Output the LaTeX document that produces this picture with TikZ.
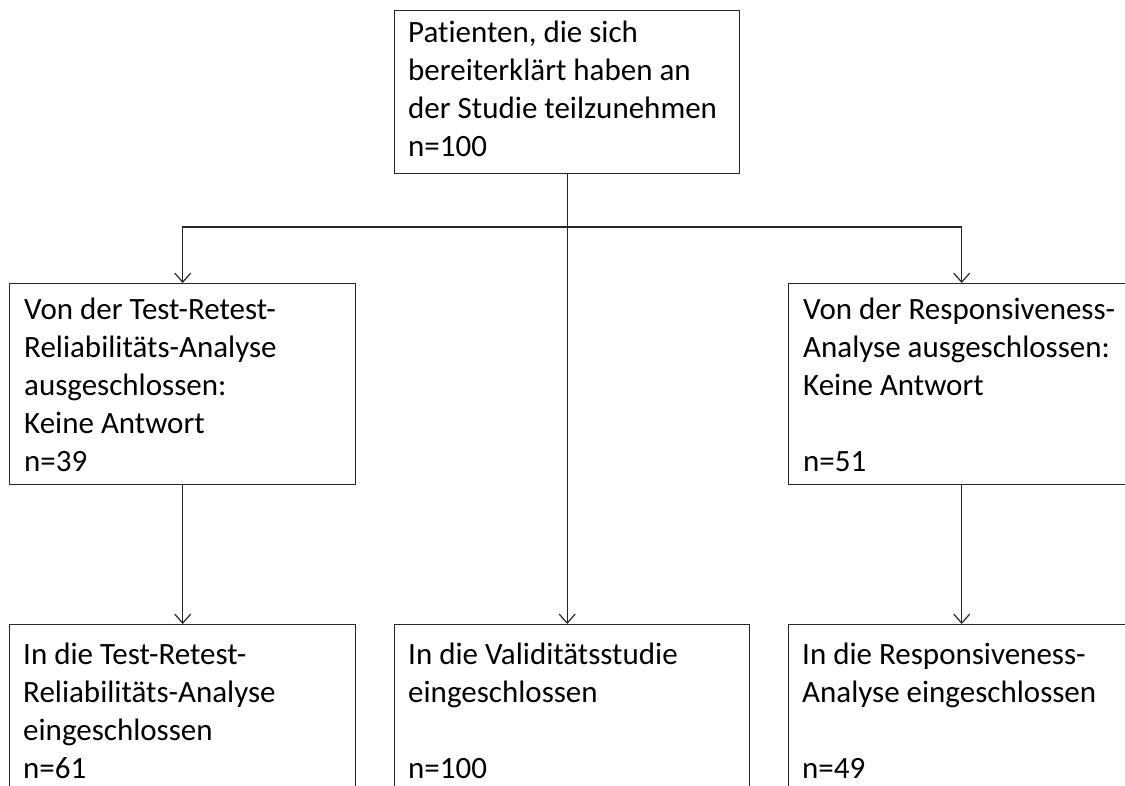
\documentclass[tikz,border=0pt]{standalone}
\usepackage{fontspec}
\setmainfont[Ligatures=NoCommon]{Carlito}
\usetikzlibrary{arrows.meta}

\tikzset{
	kasten/.style={draw=black!85, line width=1.4pt, minimum width=346pt, inner sep=0pt, anchor=north west},
	txt/.style={anchor=north west, inner sep=0pt, align=left, font=\fontsize{31}{38}\selectfont},
	pfeil/.style={draw=black!85, line width=1.2pt, -{Straight Barb[length=9pt,width=16pt]}},
}

\begin{document}
\begin{tikzpicture}[x=1pt,y=-1pt]
		\useasboundingbox (0,0) rectangle (1125,785);
		\clip (0,0) rectangle (1125,785);

		%Oben
		\node[kasten, minimum width=345pt, minimum height=163pt] (start) at (394,10) {};
		\node[txt] (tstart) at ([shift={(14,11)}]start.north west) {Patienten, die sich\\bereiterklärt haben an\\der Studie teilzunehmen\\n=100};

		%Ausgeschlossen
		\node[kasten, minimum height=201pt] (ausL) at (9,283) {};
		\node[txt] (tausL) at ([shift={(15,15)}]ausL.north west) {Von der Test-Retest-\\Reliabilitäts-Analyse\\ausgeschlossen:\\Keine Antwort\\n=39};
		\node[kasten, minimum height=201pt] (ausR) at (788,283) {};
		\node[txt] (tausR) at ([shift={(15,15)}]ausR.north west) {Von der Responsiveness-\\Analyse ausgeschlossen:\\Keine Antwort\\[38pt]n=51};

		%Eingeschlossen
		\node[kasten, minimum height=220pt] (einL) at (9,624) {};
		\node[txt] (teinL) at ([shift={(14,19)}]einL.north west) {In die Test-Retest-\\Reliabilitäts-Analyse\\eingeschlossen\\n=61};
		\node[kasten, minimum width=355pt, minimum height=220pt] (einM) at (394,624) {};
		\node[txt] (teinM) at ([shift={(14,19)}]einM.north west) {In die Validitätsstudie\\eingeschlossen\\[38pt]n=100};
		\node[kasten, minimum height=220pt] (einR) at (788,624) {};
		\node[txt] (teinR) at ([shift={(14,19)}]einR.north west) {In die Responsiveness-\\Analyse eingeschlossen\\[38pt]n=49};

		%Pfeile
		\coordinate (split) at (start.south |- 0,227);
		\draw[pfeil] (start.south) -- (start.south |- einM.north);
		\draw[pfeil] (split) -| (ausL.north);
		\draw[pfeil] (split) -| (ausR.north);
		\draw[pfeil] (ausL.south) -- (einL.north);
		\draw[pfeil] (ausR.south) -- (einR.north);
	\end{tikzpicture}
\end{document}
